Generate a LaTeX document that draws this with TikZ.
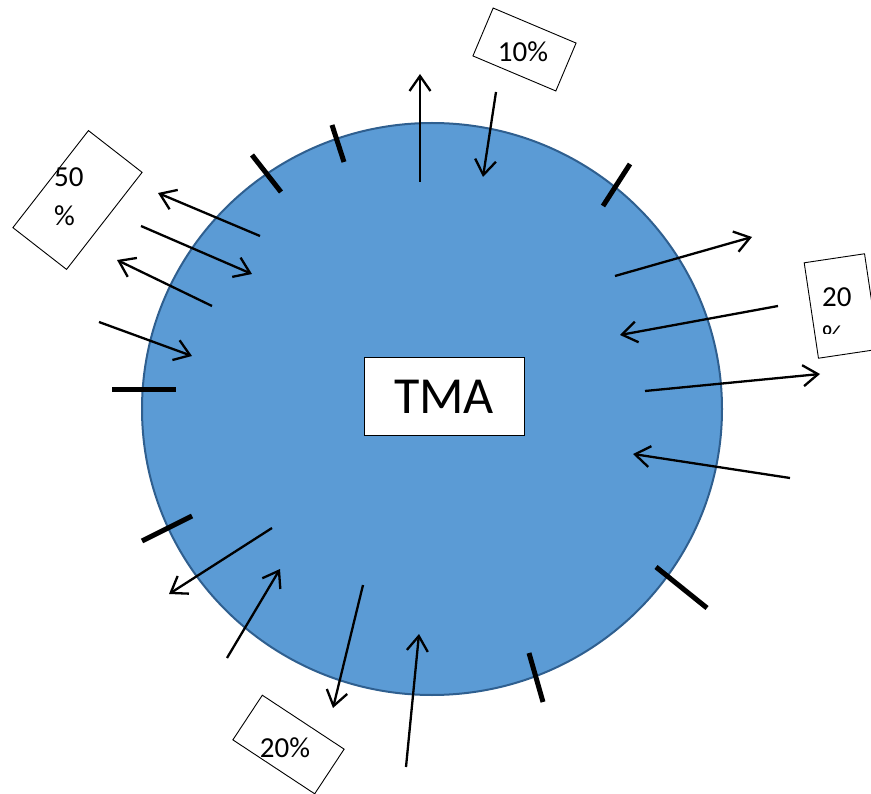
\documentclass[tikz,border=0pt]{standalone}
\usepackage{fontspec}
\setmainfont{Carlito}
\usetikzlibrary{arrows.meta}
\definecolor{tmafill}{HTML}{5B9BD5}
\definecolor{tmaedge}{HTML}{2F5F8F}
\tikzset{
  flow/.style={line width=2.3pt, -{Straight Barb[length=15pt,width=21pt,line width=2.3pt]}},
  tick/.style={line width=5pt},
  labelbox/.style={draw, line width=0.9pt, fill=white, inner sep=0pt},
  pct/.style={font=\fontsize{29}{39}\selectfont, inner sep=0pt}
}
\begin{document}
\begin{tikzpicture}[x=1pt,y=-1pt]
\useasboundingbox (0,0) rectangle (871,794);
% circle
\draw[fill=tmafill, draw=tmaedge, line width=2pt] (432,409) ellipse [x radius=290pt, y radius=286pt];
\node (tma) [draw, fill=white, line width=1pt, minimum width=160pt, minimum height=78pt, inner sep=0pt,
  font=\fontsize{52}{60}\selectfont] at (444,397) {TMA};
% label boxes
\node (b10) [labelbox, minimum width=90pt, minimum height=52pt, rotate=-22.9] at (524.5,49.5) {};
\node (t10) [pct] at (523,52) {10\%};
\node (b50) [labelbox, minimum width=68pt, minimum height=123pt, rotate=-37.9] at (77.5,200) {};
\node (t50) [pct, align=left, anchor=west] at (54,197) {50\\\%};
\node (b20r) [labelbox, minimum width=61pt, minimum height=96.5pt, rotate=8.5] at (841.5,306) {};
\begin{scope}
\clip (790,240) rectangle (871,334);
\node (t20r) [pct, align=left, anchor=west] at (822,317) {20\\\%};
\end{scope}
\node (b20b) [labelbox, minimum width=98pt, minimum height=53.5pt, rotate=-33.4] at (288.5,744.5) {};
\node (t20b) [pct] at (285,748) {20\%};
% tick marks
\coordinate (k1a) at (332,125); \coordinate (k1b) at (344,162);
\coordinate (k2a) at (252,155); \coordinate (k2b) at (281,192);
\coordinate (k3a) at (112,390); \coordinate (k3b) at (176,390);
\coordinate (k4a) at (142,541); \coordinate (k4b) at (192,516);
\coordinate (k5a) at (529,653); \coordinate (k5b) at (543,702);
\coordinate (k6a) at (656,567); \coordinate (k6b) at (707,608);
\coordinate (k7a) at (603,206); \coordinate (k7b) at (630,164);
\foreach \k in {1,...,7} \draw[tick] (k\k a) -- (k\k b);
% arrows
\coordinate (a1) at (420,182); \coordinate (a2) at (420,74);
\coordinate (b1) at (496,92);  \coordinate (b2) at (483,177);
\coordinate (c1) at (260,236); \coordinate (c2) at (158,193);
\coordinate (d1) at (141,226); \coordinate (d2) at (252,274);
\coordinate (e1) at (212,306); \coordinate (e2) at (117,260);
\coordinate (f1) at (99,322);  \coordinate (f2) at (192,356);
\coordinate (g1) at (272,528); \coordinate (g2) at (169,594);
\coordinate (h1) at (227,658); \coordinate (h2) at (280,569);
\coordinate (i1) at (363,585); \coordinate (i2) at (333,708);
\coordinate (j1) at (406,767); \coordinate (j2) at (419,634);
\coordinate (k1) at (615,276); \coordinate (k2) at (752,237);
\coordinate (l1) at (778,306); \coordinate (l2) at (620,335);
\coordinate (m1) at (645,391); \coordinate (m2) at (820,374);
\coordinate (n1) at (790,478); \coordinate (n2) at (633,454);
\foreach \p in {a,b,c,d,e,f,g,h,i,j,k,l,m,n} \draw[flow] (\p1) -- (\p2);
\end{tikzpicture}
\end{document}
